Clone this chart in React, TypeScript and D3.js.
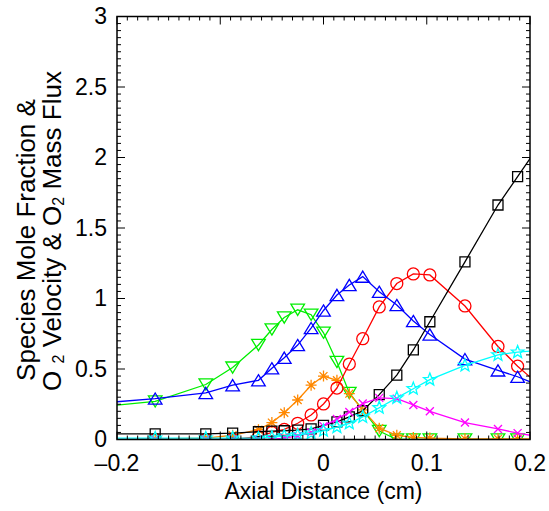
import React from 'react';
import * as d3 from 'd3';

// Axial positions (cm); first and last points lie just outside the plotted range
const xValues = [-0.213, -0.163, -0.114, -0.088, -0.063, -0.05, -0.038, -0.025, -0.012, 0.0, 0.013, 0.025, 0.038, 0.054, 0.071, 0.087, 0.103, 0.137, 0.169, 0.188, 0.213];

const blackSquares = [0.04, 0.04, 0.04, 0.045, 0.055, 0.06, 0.062, 0.067, 0.075, 0.1, 0.125, 0.16, 0.204, 0.318, 0.457, 0.635, 0.835, 1.26, 1.663, 1.864, 2.13];
const redCircles = [0, 0, 0, 0, 0.02, 0.05, 0.072, 0.115, 0.174, 0.252, 0.365, 0.535, 0.715, 0.94, 1.106, 1.174, 1.167, 0.947, 0.66, 0.52, 0.36];
const blueTriangles = [0.26, 0.29, 0.33, 0.385, 0.42, 0.505, 0.58, 0.67, 0.79, 0.915, 1.025, 1.096, 1.155, 1.048, 0.954, 0.84, 0.745, 0.57, 0.49, 0.445, 0.372];
const greenTriangles = [0.235, 0.27, 0.39, 0.51, 0.67, 0.78, 0.865, 0.92, 0.885, 0.757, 0.55, 0.33, null, 0.06, 0.0, 0.0, 0.0, 0.0, 0.0, 0.0, 0.0];
const orangeAsterisks = [0, 0.005, 0.01, 0.03, 0.07, 0.12, 0.19, 0.28, 0.385, 0.45, 0.42, 0.325, 0.21, 0.08, 0.03, 0.015, 0.01, 0.005, 0.005, 0.005, 0.005];
const magentaCrosses = [0, 0, 0, 0, 0, 0, 0.01, 0.025, 0.05, 0.095, 0.145, 0.195, 0.255, 0.295, 0.29, 0.245, 0.2, 0.12, 0.075, 0.045, 0.014];
const cyanStars = [0.01, 0.01, 0.01, 0.01, 0.01, 0.015, 0.025, 0.032, 0.045, 0.062, 0.088, 0.115, 0.16, 0.225, 0.295, 0.36, 0.425, 0.525, 0.6, 0.62, 0.635];

const xTickValues = [-0.2, -0.1, 0, 0.1, 0.2];
const xTickLabels = ['\u20130.2', '\u20130.1', '0', '0.1', '0.2'];
const yTickValues = [0, 0.5, 1, 1.5, 2, 2.5, 3];
const yTickLabels = ['0', '0.5', '1', '1.5', '2', '2.5', '3'];

type Series = { values: (number | null)[]; color: string; marker: string };
const seriesList: Series[] = [
  { values: greenTriangles, color: '#00ee00', marker: 'down' },
  { values: orangeAsterisks, color: '#ff8800', marker: 'asterisk' },
  { values: redCircles, color: '#ff0000', marker: 'circle' },
  { values: blueTriangles, color: '#0000ff', marker: 'up' },
  { values: blackSquares, color: '#000000', marker: 'square' },
  { values: magentaCrosses, color: '#ff00ff', marker: 'cross' },
  { values: cyanStars, color: '#00ffff', marker: 'star' },
];

const FONT = '"Liberation Sans", Arial, Helvetica, sans-serif';

function markerPath(kind: string, cx: number, cy: number): string {
  switch (kind) {
    case 'square': {
      const s = 5;
      return `M${cx - s},${cy - s}h${2 * s}v${2 * s}h${-2 * s}Z`;
    }
    case 'up': {
      const w = 6.8, h = 5.6;
      return `M${cx},${cy - h}L${cx + w},${cy + h}L${cx - w},${cy + h}Z`;
    }
    case 'down': {
      const w = 6.8, h = 5.6;
      return `M${cx},${cy + h}L${cx + w},${cy - h}L${cx - w},${cy - h}Z`;
    }
    case 'asterisk': {
      const r = 5.5, d = r * 0.72;
      return `M${cx - r},${cy}h${2 * r}M${cx},${cy - r}v${2 * r}M${cx - d},${cy - d}L${cx + d},${cy + d}M${cx - d},${cy + d}L${cx + d},${cy - d}`;
    }
    case 'cross': {
      const r = 4;
      return `M${cx - r},${cy - r}L${cx + r},${cy + r}M${cx - r},${cy + r}L${cx + r},${cy - r}`;
    }
    case 'star': {
      const ro = 6.6, ri = 2.8;
      const pts: string[] = [];
      for (let i = 0; i < 10; i++) {
        const a = -Math.PI / 2 + (i * Math.PI) / 5;
        const r = i % 2 === 0 ? ro : ri;
        pts.push(`${cx + r * Math.cos(a)},${cy + r * Math.sin(a)}`);
      }
      return 'M' + pts.join('L') + 'Z';
    }
    default:
      return '';
  }
}

export default function App() {
  const W = 549, H = 511;
  const x = d3.scaleLinear().domain([-0.2, 0.2]).range([117, 530]);
  const y = d3.scaleLinear().domain([0, 3]).range([439.5, 16.5]);
  const [x0, x1] = x.range();
  const [y0, y1] = y.range();

  const xMinor = d3.range(-20, 21).map((i) => i / 100);
  const yMinor = d3.range(0, 61).map((i) => i / 20);
  const isMajorX = (v: number) => Math.abs(v * 10 - Math.round(v * 10)) < 1e-6;
  const isMajorY = (v: number) => Math.abs(v * 2 - Math.round(v * 2)) < 1e-6;
  const MAJ = 8, MIN = 4;

  const line = d3
    .line<[number, number]>()
    .x((d) => x(d[0]))
    .y((d) => y(d[1]));

  return (
    <svg width={W} height={H} style={{ position: 'absolute', left: 0, top: 0, background: '#fff' }} fontFamily={FONT}>
      <defs>
        <clipPath id="plotClip">
          <rect x={x0} y={y1} width={x1 - x0} height={y0 - y1} />
        </clipPath>
      </defs>
      <rect x={0} y={0} width={W} height={H} fill="#fff" />
      <g clipPath="url(#plotClip)">
        {seriesList.map((s, si) => {
          const pts: [number, number][] = [];
          s.values.forEach((v, i) => {
            if (v !== null) pts.push([xValues[i], v]);
          });
          return (
            <g key={si}>
              <path d={line(pts) || ''} fill="none" stroke={s.color} strokeWidth={1.3} />
              {pts.map((p, i) =>
                s.marker === 'circle' ? (
                  <circle key={i} cx={x(p[0])} cy={y(p[1])} r={6} fill="none" stroke={s.color} strokeWidth={1.3} />
                ) : (
                  <path key={i} d={markerPath(s.marker, x(p[0]), y(p[1]))} fill="none" stroke={s.color} strokeWidth={1.3} />
                )
              )}
            </g>
          );
        })}
      </g>
      {/* ticks */}
      <g stroke="#000" strokeWidth={1}>
        {xMinor.map((v, i) => {
          const len = isMajorX(v) ? MAJ : MIN;
          const px = x(v);
          return (
            <g key={'xt' + i}>
              <line x1={px} x2={px} y1={y0} y2={y0 - len} />
              <line x1={px} x2={px} y1={y1} y2={y1 + len} />
            </g>
          );
        })}
        {yMinor.map((v, i) => {
          const len = isMajorY(v) ? MAJ : MIN;
          const py = y(v);
          return (
            <g key={'yt' + i}>
              <line x1={x0} x2={x0 + len} y1={py} y2={py} />
              <line x1={x1} x2={x1 - len} y1={py} y2={py} />
            </g>
          );
        })}
      </g>
      <rect x={x0} y={y1} width={x1 - x0} height={y0 - y1} fill="none" stroke="#000" strokeWidth={1.5} />
      {/* tick labels */}
      <g fontSize={23} fill="#000">
        {xTickValues.map((v, i) => (
          <text key={'xl' + i} x={x(v)} y={471} textAnchor="middle">
            {xTickLabels[i]}
          </text>
        ))}
        {yTickValues.map((v, i) => (
          <text key={'yl' + i} x={107} y={y(v) + 7.5} textAnchor="end">
            {yTickLabels[i]}
          </text>
        ))}
      </g>
      <text x={(x0 + x1) / 2} y={499} textAnchor="middle" fontSize={23} fill="#000">
        Axial Distance (cm)
      </text>
      <g transform={`translate(35, 240) rotate(-90)`}>
        <text x={0} y={0} textAnchor="middle" fontSize={26} fill="#000">
          Species Mole Fraction &amp;
        </text>
      </g>
      <g transform={`translate(61, 231) rotate(-90)`}>
        <text x={0} y={0} textAnchor="middle" fontSize={26} fill="#000">
          O <tspan fontSize={16} dy={3}>2</tspan>
          <tspan dy={-3}> Velocity &amp; O</tspan>
          <tspan fontSize={16} dy={3}>2</tspan>
          <tspan dy={-3}> Mass Flux</tspan>
        </text>
      </g>
    </svg>
  );
}
